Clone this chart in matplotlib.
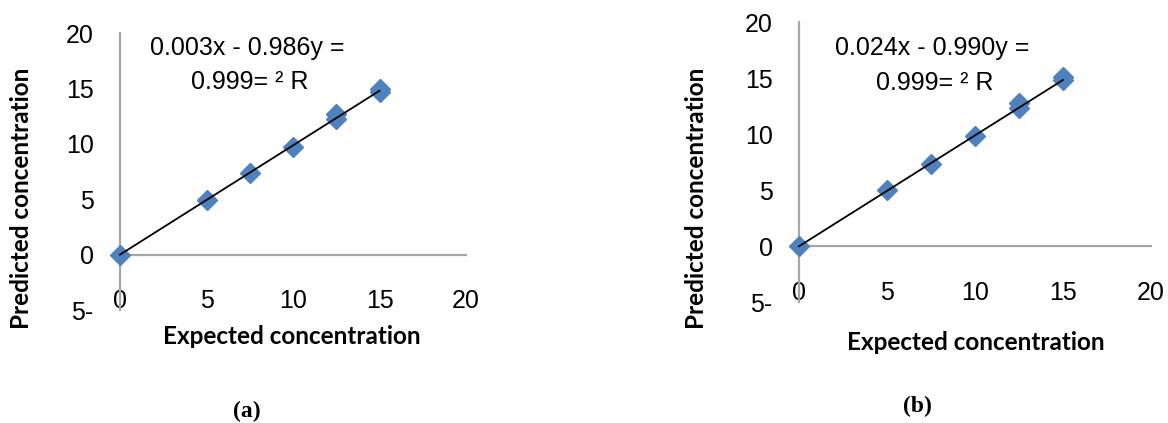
import matplotlib
matplotlib.use("Agg")
import matplotlib.pyplot as plt
import numpy as np

# ---- data ----
expected_a = [0, 5, 7.5, 10, 12.5, 12.5, 15, 15]
predicted_a = [0, 4.95, 7.35, 9.75, 12.2, 12.65, 14.7, 14.95]
slope_a, intercept_a = 0.986, -0.003
eq_a = ["0.003x - 0.986y =", "0.999= ² R"]

expected_b = [0, 5, 7.5, 10, 12.5, 12.5, 15, 15]
predicted_b = [0, 5.0, 7.3, 9.85, 12.3, 12.75, 14.85, 15.05]
slope_b, intercept_b = 0.990, -0.024
eq_b = ["0.024x - 0.990y =", "0.999= ² R"]

xticks = [0, 5, 10, 15, 20]
yticks = [-5, 0, 5, 10, 15, 20]
ytick_labels = ["5-", "0", "5", "10", "15", "20"]
xlabel = "Expected concentration"
ylabel = "Predicted concentration"
panel_labels = ["(a)", "(b)"]

W, H = 1168, 423
fig = plt.figure(figsize=(W / 100, H / 100), dpi=100)

AXIS_GRAY = "#a6a6a6"
BLUE = "#4f81bd"
TICK_FONT = "Liberation Sans"
LABEL_FONT = "Lato"
TICK_SIZE = 18
LABEL_SIZE = 17.5


def px_rect(x0, x1, ytop, ybot):
    return [x0 / W, 1 - ybot / H, (x1 - x0) / W, (ybot - ytop) / H]


panels = [
    dict(rect=px_rect(120, 466, 33, 310), x=expected_a, y=predicted_a,
         m=slope_a, c=intercept_a, eq=eq_a, eqx=(247, 250), eqy=(48, 82),
         ylab=(22, 198), xlab=(292, 336), plab=(247, 411), label=panel_labels[0]),
    dict(rect=px_rect(799, 1151, 22, 302), x=expected_b, y=predicted_b,
         m=slope_b, c=intercept_b, eq=eq_b, eqx=(932, 935), eqy=(48, 83),
         ylab=(697, 198), xlab=(976, 342), plab=(917, 406), label=panel_labels[1]),
]

for p in panels:
    ax = fig.add_axes(p["rect"])
    ax.set_xlim(0, 20)
    ax.set_ylim(-5, 20)
    for s in ["top", "right"]:
        ax.spines[s].set_visible(False)
    ax.spines["bottom"].set_position(("data", 0))
    for s in ["left", "bottom"]:
        ax.spines[s].set_color(AXIS_GRAY)
        ax.spines[s].set_linewidth(1.6)
    ax.set_xticks(xticks)
    ax.set_xticklabels([str(t) for t in xticks])
    ax.set_yticks(yticks)
    ax.set_yticklabels(ytick_labels)
    ax.tick_params(axis="both", length=0, labelsize=TICK_SIZE)
    ax.tick_params(axis="x", pad=25)
    ax.tick_params(axis="y", pad=19)
    for lab in ax.get_xticklabels() + ax.get_yticklabels():
        lab.set_fontfamily(TICK_FONT)
    ax.patch.set_alpha(0)

    ax.plot(p["x"], p["y"], linestyle="none", marker="D", markersize=10.5,
            color=BLUE, clip_on=False, zorder=3)
    xs = np.array([0, 15])
    ax.plot(xs, p["m"] * xs + p["c"], color="black", lw=1.3, zorder=4,
            clip_on=False)

    fig.text(p["eqx"][0] / W, 1 - p["eqy"][0] / H, p["eq"][0],
             ha="center", va="center", fontsize=TICK_SIZE, family=TICK_FONT)
    fig.text(p["eqx"][1] / W, 1 - p["eqy"][1] / H, p["eq"][1],
             ha="center", va="center", fontsize=TICK_SIZE, family=TICK_FONT)

    fig.text(p["ylab"][0] / W, 1 - p["ylab"][1] / H, ylabel, rotation=90,
             ha="center", va="center", fontsize=LABEL_SIZE, fontweight="bold",
             family=LABEL_FONT)
    fig.text(p["xlab"][0] / W, 1 - p["xlab"][1] / H, xlabel,
             ha="center", va="center", fontsize=LABEL_SIZE, fontweight="bold",
             family=LABEL_FONT)
    fig.text(p["plab"][0] / W, 1 - p["plab"][1] / H, p["label"],
             ha="center", va="center", fontsize=17, fontweight="bold",
             family="Liberation Serif")

fig.savefig("out.png", dpi=100)
